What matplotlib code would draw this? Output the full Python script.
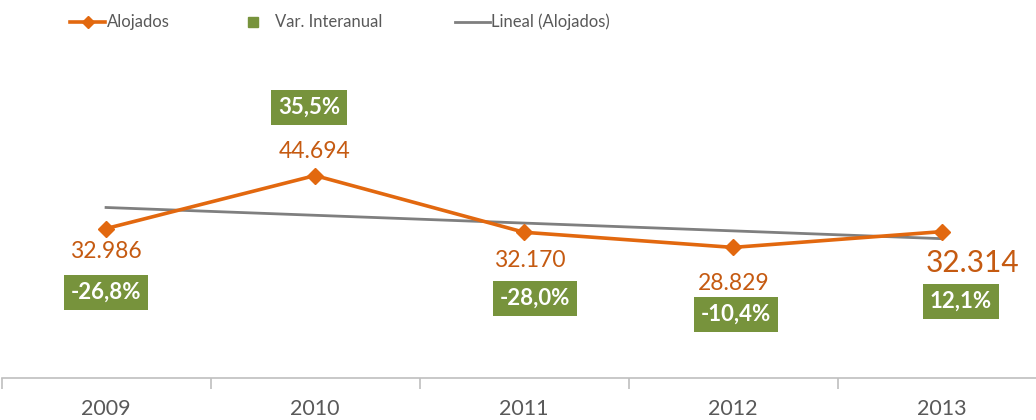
import numpy as np
import matplotlib
matplotlib.use('Agg')
import matplotlib.pyplot as plt
from matplotlib.lines import Line2D

# data
years = ['2009', '2010', '2011', '2012', '2013']
alojados = [32986, 44694, 32170, 28829, 32314]
var_interanual = [-26.8, 35.5, -28.0, -10.4, 12.1]
series_names = ['Alojados', 'Var. Interanual', 'Lineal (Alojados)']

# label offsets in pixels (value label, % box) - as placed in the original
lab_off = [(0, -23), (0, 24), (6, -28), (1, -36), (30, -31)]
box_off = [(0, -64), (-6, 68), (11, -66), (3, -67), (19, -70)]

orange = '#E2680F'
orange_txt = '#C55A11'
green = '#77933C'
grey = '#7F7F7F'
txt = '#595959'

plt.rcParams['font.family'] = ['Lato', 'DejaVu Sans']

W, H = 1036, 420
fig = plt.figure(figsize=(W / 100, H / 100), dpi=100)
ax = fig.add_axes([0.0015, 0.1, 1.0087, 0.755])

x = np.arange(len(years))
ax.plot(x, alojados, color=orange, lw=2.6, marker='D', ms=8, zorder=3)

# linear trend
k, b = np.polyfit(x, alojados, 1)
ax.plot(x, k * x + b, color=grey, lw=2, zorder=2)

def fmt(v):
    return '{:,}'.format(v).replace(',', '.')

for i in range(len(years)):
    fs = 21.5 if i == len(years) - 1 else 16.5
    ax.annotate(fmt(alojados[i]), (x[i], alojados[i]), xytext=lab_off[i],
                textcoords='offset pixels', ha='center', va='center',
                color=orange_txt, fontsize=fs)
    s = ('%.1f%%' % var_interanual[i]).replace('.', ',')
    ax.annotate(s, (x[i], alojados[i]), xytext=box_off[i],
                textcoords='offset pixels', ha='center', va='center',
                color='white', fontsize=16, fontweight='bold',
                bbox=dict(boxstyle='square,pad=0.32', fc=green, ec='none'))

ax.set_xlim(-0.5, len(years) - 0.5)
ax.set_ylim(0, 70000)
for s in ['top', 'left', 'right']:
    ax.spines[s].set_visible(False)
ax.spines['bottom'].set_color('#BFBFBF')
ax.spines['bottom'].set_linewidth(1.2)
ax.set_yticks([])
ax.set_xticks(x)
ax.set_xticklabels(years, fontsize=15.5, color=txt)
ax.tick_params(axis='x', which='major', length=0, pad=15)
ax.set_xticks(np.arange(-0.5, len(years), 1.0), minor=True)
ax.tick_params(axis='x', which='minor', length=8, color='#BFBFBF', width=1.2)

# legend drawn by hand, positions in pixels
ly = 1 - 22 / H
fig.add_artist(Line2D([70 / W, 105 / W], [ly, ly], color=orange, lw=2.6,
                      transform=fig.transFigure))
fig.add_artist(Line2D([87.5 / W], [ly], color=orange, marker='D', ms=6,
                      lw=0, transform=fig.transFigure))
fig.add_artist(Line2D([253 / W], [ly], color=green, marker='s', ms=7,
                      lw=0, transform=fig.transFigure))
fig.add_artist(Line2D([455 / W, 490 / W], [ly, ly], color=grey, lw=2,
                      transform=fig.transFigure))
for xt, name in zip([107, 275, 491], series_names):
    fig.text(xt / W, ly, name, ha='left', va='center', fontsize=12, color=txt)

fig.savefig('out.png', dpi=100)
